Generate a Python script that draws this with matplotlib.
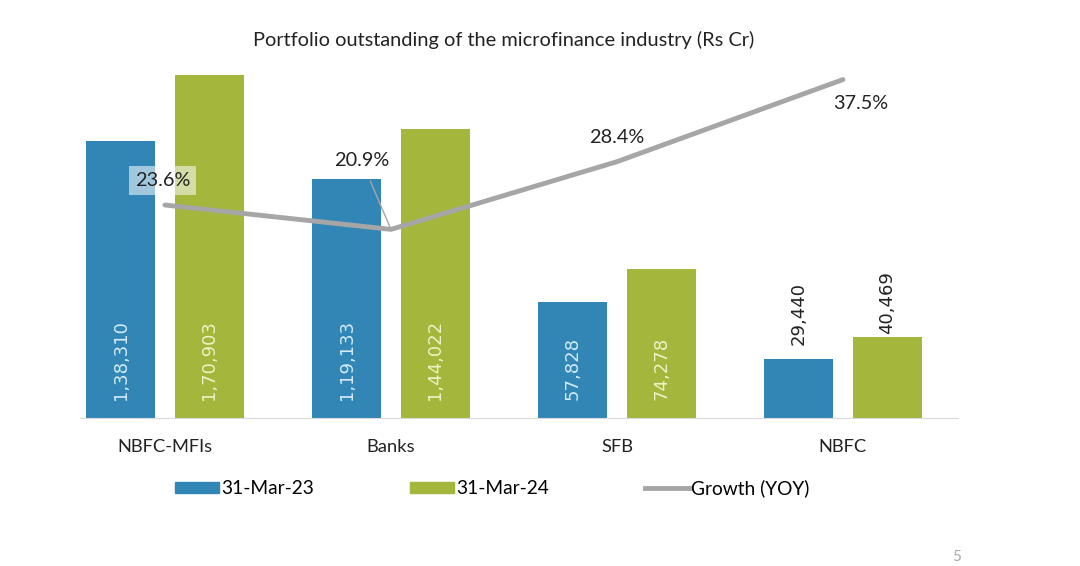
import numpy as np
import matplotlib.pyplot as plt
from matplotlib.patches import Patch
from matplotlib.lines import Line2D

# donnees
categories = ['NBFC-MFIs', 'Banks', 'SFB', 'NBFC']
mar23 = [138310, 119133, 57828, 29440]
mar24 = [170903, 144022, 74278, 40469]
croissance = [23.6, 20.9, 28.4, 37.5]
etiq23 = ['1,38,310', '1,19,133', '57,828', '29,440']
etiq24 = ['1,70,903', '1,44,022', '74,278', '40,469']

bleu = '#3286b6'
vert = '#a4b63b'
gris = '#a6a6a6'

plt.rcParams['font.family'] = ['Lato', 'DejaVu Sans']

fig = plt.figure(figsize=(10.8, 5.66), dpi=100)
ax = fig.add_axes([80/1080, 1-418/566, 878/1080, 361/566])
ax2 = ax.twinx()

x = np.arange(len(categories))
larg = 0.305
dec = 0.195
b1 = ax.bar(x - dec, mar23, larg, color=bleu)
b2 = ax.bar(x + dec, mar24, larg, color=vert)

ax.set_xlim(-0.376, 3.509)
ax.set_ylim(0, 180000)
ax2.set_ylim(0, 40)

# etiquettes des barres
for i in range(len(categories)):
    for xi, val, txt, col, ecart in [(x[i] - dec, mar23[i], etiq23[i], '#d3ebf7', 7000),
                                     (x[i] + dec, mar24[i], etiq24[i], '#eef3c8', 1500)]:
        if val > 50000:
            ax.text(xi, 9000, txt, rotation=90, ha='center', va='bottom',
                    color=col, fontsize=13, family=['DejaVu Sans'])
        else:
            ax.text(xi, val + ecart, txt, rotation=90, ha='center', va='bottom',
                    color='#222222', fontsize=13, family=['DejaVu Sans'])

# courbe de croissance
ax2.plot(x, croissance, color=gris, lw=3.5, solid_capstyle='round')
ax2.text(x[0] - 0.01, croissance[0] + 2.7, '23.6%', ha='center', va='center',
         fontsize=14.3, color='#222222',
         bbox=dict(boxstyle='square,pad=0.3', fc='white', ec='none', alpha=0.55))
ax2.annotate('20.9%', xy=(x[1], croissance[1]), xytext=(x[1] - 0.13, croissance[1] + 7.6),
             ha='center', va='center', fontsize=14.3, color='#222222',
             arrowprops=dict(arrowstyle='-', color=gris, lw=1, shrinkA=7, shrinkB=0))
ax2.text(x[2], croissance[2] + 2.7, '28.4%', ha='center', va='center',
         fontsize=14.3, color='#222222')
ax2.text(x[3] + 0.08, croissance[3] - 2.6, '37.5%', ha='center', va='center',
         fontsize=14.3, color='#222222')

for a in (ax, ax2):
    for s in ['top', 'right', 'left']:
        a.spines[s].set_visible(False)
    a.set_yticks([])
ax.spines['bottom'].set_color('#d9d9d9')
ax2.spines['bottom'].set_visible(False)
ax.set_xticks(x)
ax.set_xticklabels(categories, fontsize=13.2, color='#222222')
ax.tick_params(axis='x', length=0, pad=15)

fig.text(504/1080, 1-40/566, 'Portfolio outstanding of the microfinance industry (Rs Cr)',
         ha='center', va='center', fontsize=14.4, color='#222222')

poignees = [Patch(color=bleu), Patch(color=vert), Line2D([], [], color=gris, lw=3.5)]
fig.legend(poignees, ['31-Mar-23', '31-Mar-24', 'Growth (YOY)'], ncol=3,
           loc='center', bbox_to_anchor=(492/1080, 1-488/566), frameon=False,
           fontsize=13.8, handlelength=2.3, handleheight=0.5, handletextpad=0.1,
           columnspacing=5.0)

fig.text(957/1080, 1-557/566, '5', ha='center', va='center', fontsize=11, color='#aaaaaa')

plt.savefig('out.png', dpi=100)
